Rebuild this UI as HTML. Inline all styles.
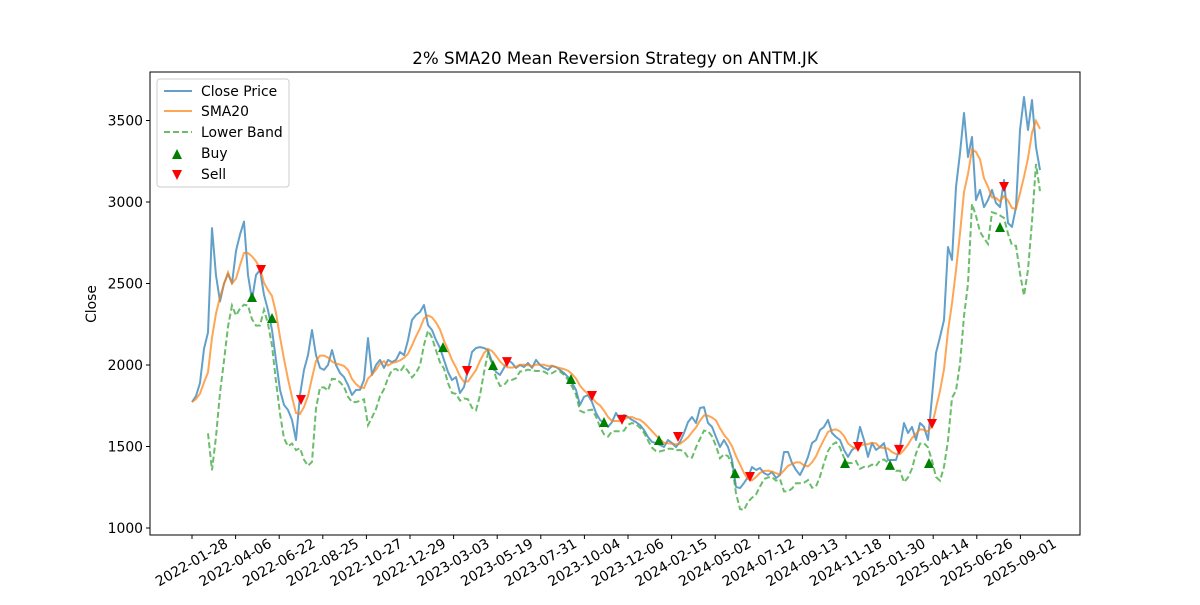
<!DOCTYPE html>
<html><head><meta charset="utf-8"><style>
body{margin:0;background:#fff;}
svg text{font-family:"DejaVu Sans","Liberation Sans",sans-serif;}
</style></head><body>
<svg id="chart" width="1200" height="600" xmlns="http://www.w3.org/2000/svg">
<rect width="1200" height="600" fill="#fff"/>
<text x="615" y="64" text-anchor="middle" font-size="16.7" fill="#000">2% SMA20 Mean Reversion Strategy on ANTM.JK</text>
<text transform="translate(96,304) rotate(-90)" text-anchor="middle" font-size="13.9">Close</text>
<g id="plot"></g>
<rect x="150" y="72" width="930" height="463" fill="none" stroke="#000" stroke-width="1"/>
<g>
<rect x="157" y="79" width="132" height="108" rx="3" fill="#fff" fill-opacity="0.8" stroke="#ccc"/>
<g><line x1="164" y1="91" x2="192" y2="91" stroke="#1f77b4" stroke-opacity="0.7" stroke-width="2"/><text x="201" y="96" font-size="13.9">Close Price</text></g>
<g><line x1="164" y1="111" x2="192" y2="111" stroke="#ff7f0e" stroke-opacity="0.7" stroke-width="2"/><text x="201" y="116" font-size="13.9">SMA20</text></g>
<g><line x1="164" y1="132" x2="192" y2="132" stroke="#2ca02c" stroke-opacity="0.7" stroke-width="2" stroke-dasharray="6,3"/><text x="201" y="137" font-size="13.9">Lower Band</text></g>
<g><polygon points="177,149 182,159 172,159" fill="green"/><text x="201" y="158" font-size="13.9">Buy</text></g>
<g><polygon points="172,170 182,170 177,180" fill="red"/><text x="201" y="179" font-size="13.9">Sell</text></g>
</g>
</svg>
<script>
const closeVals=[1773,1810,1890,2100,2200,2840,2550,2390,2500,2560,2500,2700,2800,2880,2552,2400,2552,2583,2430,2337,2215,2030,1847,1755,1724,1663,1540,1816,1970,2061,2215,2061,1982,1970,2000,2092,2000,1951,1926,1877,1816,1847,1847,1908,2165,1939,2000,2031,1982,2031,2018,2031,2080,2061,2153,2276,2307,2325,2368,2245,2215,2153,2104,2031,1957,1908,
1926,1828,1865,1970,2080,2104,2110,2104,2092,2018,1957,1939,1982,2031,2012,1982,2000,1988,2012,1982,2031,2000,1982,1970,1994,1988,1970,1951,1926,1890,1847,1755,1804,1816,1773,1706,1663,1644,1620,1650,1706,1663,1693,1681,1663,1650,1632,1601,1558,1528,1521,1509,1497,1540,1521,1497,1528,1583,1650,1681,1644,1736,1742,1644,1620,1558,1497,1540,1497,1417,1252,1245,1276,1313,
1374,1356,1368,1337,1325,1343,1307,1325,1466,1466,1399,1356,1325,1374,1436,1521,1540,1601,1620,1663,1583,1558,1540,1479,1436,1479,1497,1620,1540,1436,1521,1479,1497,1521,1417,1417,1417,1497,1644,1583,1620,1540,1644,1620,1540,1804,2074,2172,2276,2724,2644,3092,3300,3546,3276,3399,3012,3074,2969,3012,3074,2994,2969,3135,2871,2847,2969,3442,3644,3442,3626,3337,3196];
const buyIdx=[15,20,62.75,75.25,94.75,103,116.75,135.75,163.25,174.5,184.25,202];
const buyVals=[2417,2288,2110,2000,1914,1650,1540,1337,1399,1387,1399,2847];
const sellIdx=[17.25,27.25,68.75,78.75,100,107.5,121.5,139.5,166.5,176.75,185,203];
const sellVals=[2583,1785,1963,2018,1810,1663,1558,1313,1497,1479,1638,3092];
const yTicks=[1000,1500,2000,2500,3000,3500];
const xTickLabels=['2022-01-28','2022-04-06','2022-06-22','2022-08-25','2022-10-27','2022-12-29','2023-03-03','2023-05-19','2023-07-31','2023-10-04','2023-12-06','2024-02-15','2024-05-02','2024-07-12','2024-09-13','2024-11-18','2025-01-30','2025-04-14','2025-06-26','2025-09-01'];
const xTickIdx=[0,10.9,21.8,32.7,43.6,54.5,65.4,76.3,87.2,98.1,109,119.9,130.8,141.7,152.6,163.5,174.4,185.3,196.2,207.1];

const NS='http://www.w3.org/2000/svg';
const X=i=>192+i*4;
const Y=v=>528-(v-1000)*0.163;
const g=document.getElementById('plot');
function mk(t,a){const e=document.createElementNS(NS,t);for(const k in a)e.setAttribute(k,a[k]);g.appendChild(e);return e;}

yTicks.forEach(v=>{
  const l=mk('line',{x1:146,x2:150,y1:Y(v),y2:Y(v),stroke:'#000'});
  
  
  const t=mk('text',{x:143,y:Y(v)+5,'text-anchor':'end','font-size':'13.9'});
  t.textContent=v;
  
  
});
xTickLabels.forEach((s,k)=>{
  const x=X(xTickIdx[k]);
  const l=mk('line',{x1:x,x2:x,y1:535,y2:539,stroke:'#000'});
  
  
  const t=mk('text',{transform:`translate(${x},${563}) rotate(-30)`,'text-anchor':'middle','font-size':'13.9','dominant-baseline':'middle'});
  t.textContent=s;
  
  
});

const W=5,sma=[],lower=[];
closeVals.forEach((v,i)=>{
  const s=closeVals.slice(Math.max(0,i-W+1),i+1);
  const m=s.reduce((a,b)=>a+b,0)/s.length;
  sma.push(m);
  if(i>=W-1){const sd=Math.sqrt(s.reduce((a,b)=>a+(b-m)*(b-m),0)/(s.length-1));lower.push(m-2*sd);}else lower.push(null);
});
function path(arr){let d='';arr.forEach((v,i)=>{if(v==null)return;d+=(d?'L':'M')+X(i).toFixed(1)+','+Y(v).toFixed(1);});return d;}
const pc=mk('path',{d:path(closeVals),fill:'none',stroke:'#1f77b4','stroke-opacity':0.7,'stroke-width':2,'stroke-linejoin':'round'});


const ps=mk('path',{d:path(sma),fill:'none',stroke:'#ff7f0e','stroke-opacity':0.7,'stroke-width':2});


const pl=mk('path',{d:path(lower),fill:'none',stroke:'#2ca02c','stroke-opacity':0.7,'stroke-width':2,'stroke-dasharray':'6,3'});


buyIdx.forEach((b,k)=>{
  const x=X(b),y=Y(buyVals[k]);
  const p=mk('polygon',{points:`${x},${y-5} ${x+5},${y+5} ${x-5},${y+5}`,fill:'green'});
  
  
});
sellIdx.forEach((b,k)=>{
  const x=X(b),y=Y(sellVals[k]);
  const p=mk('polygon',{points:`${x-5},${y-5} ${x+5},${y-5} ${x},${y+5}`,fill:'red'});
  
  
});
</script>
</body></html>
